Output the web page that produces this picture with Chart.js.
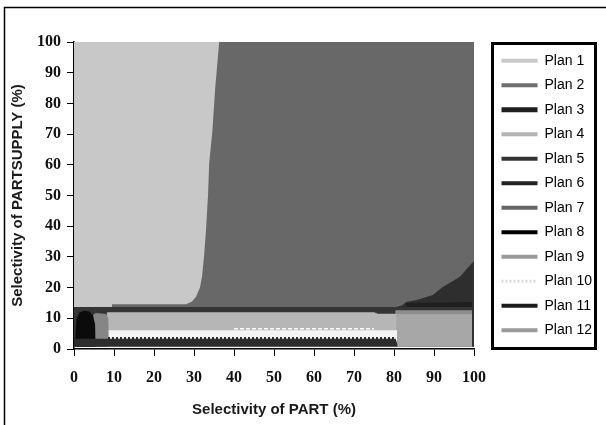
<!DOCTYPE html>
<html lang="en">
<head>
<meta charset="utf-8">
<script src="https://cdn.jsdelivr.net/npm/chart.js@4.4.0/dist/chart.umd.min.js"></script>
<style>
  body { margin: 0; background: #fff; }
  canvas { display: block; }
</style>
</head>
<body>
<canvas id="plot" width="606" height="425"></canvas>
<script>
// legend entries
const planNames = ['Plan 1','Plan 2','Plan 3','Plan 4','Plan 5','Plan 6','Plan 7','Plan 8','Plan 9','Plan 10','Plan 11','Plan 12'];
const planColors = ['#c8c8c8','#6e6e6e','#1e1e1e','#b4b4b4','#333333','#222222','#666666','#000000','#9a9a9a','#dcdcdc','#1c1c1c','#9a9a9a'];
const planWidths = [4, 4, 5, 4, 4, 4, 4, 4, 4, 3, 4, 4];

// region outlines (selectivity of PART %, selectivity of PARTSUPPLY %)
const plan1TopX = [0, 100];
const plan1TopY = [100, 100];
const plan2TopX = [9.5, 28, 29.5, 30.5, 31.5, 32, 32.5, 33, 33.5, 33.8, 34.6, 35.3, 36.3, 100];
const plan2TopY = [14.6, 14.6, 15.5, 17, 20, 23.5, 30, 38.8, 50, 60.6, 71, 85, 100, 100];
const plan6TopX = [80.5, 82, 83, 85.7, 89.7, 92, 96.5, 99.5, 100];
const plan6TopY = [13.7, 14.2, 15.3, 16, 17.6, 20, 23.5, 28, 28.5];
const plan11TopX = [83, 100];
const plan11TopY = [15.0, 15.3];
const plan5TopX = [0, 100];
const plan5TopY = [13.7, 13.7];
const plan9TopX = [80.3, 100];
const plan9TopY = [12.6, 12.6];
const plan12TopX = [80.3, 100];
const plan12TopY = [11.3, 11.3];
const plan6EdgeX = [99.5, 100];
const plan6EdgeY = [28, 28];
const plan4TopX = [8.2, 75, 76, 80.6];
const plan4TopY = [12, 12, 11.5, 11.5];
const plan10TopX = [8.2, 80.8];
const plan10TopY = [6.1, 6.1];
const plan7TopX = [4.8, 5.5, 8.0, 8.6, 8.7];
const plan7TopY = [11.2, 11.7, 11.4, 10, 3.5];
const plan8TopX = [0.3, 0.6, 1.4, 2.6, 3.8, 4.7, 5.3, 5.4];
const plan8TopY = [4, 9.8, 12, 12.5, 12.2, 11, 8, 4];
const plan3TopX = [0, 80.4, 80.9];
const plan3TopY = [3.3, 3.3, 1.5];
// thin boundary lines
const dotLineX = [8.5, 80];
const dotLineY = [3.5, 3.5];
const dashLineX = [40, 75];
const dashLineY = [6.6, 6.6];

const floorValue = 0.7;

function pts(xs, ys) {
    return xs.map((x, i) => ({ x: x, y: ys[i] }));
}

function area(label, xs, ys, color) {
    return {
        label: label,
        data: pts(xs, ys),
        backgroundColor: color,
        borderColor: color,
        borderWidth: 0,
        pointRadius: 0,
        tension: 0,
        fill: { value: floorValue },
    };
}

function line(label, xs, ys, color, width, dash) {
    return {
        label: label,
        data: pts(xs, ys),
        borderColor: color,
        borderWidth: width,
        borderDash: dash,
        pointRadius: 0,
        tension: 0,
        fill: false,
    };
}

// bottom layer first
const layers = [
    area('Plan 1', plan1TopX, plan1TopY, '#c8c8c8'),
    area('Plan 2', plan2TopX, plan2TopY, '#686868'),
    area('Plan 6', plan6TopX, plan6TopY, '#2e2e2e'),
    area('Plan 11', plan11TopX, plan11TopY, '#1f1f1f'),
    area('Plan 5', plan5TopX, plan5TopY, '#353535'),
    area('Plan 9', plan9TopX, plan9TopY, '#8e8e8e'),
    area('Plan 12', plan12TopX, plan12TopY, '#a7a7a7'),
    area('Plan 6 edge', plan6EdgeX, plan6EdgeY, '#333333'),
    area('Plan 4', plan4TopX, plan4TopY, '#b6b6b6'),
    area('Plan 10', plan10TopX, plan10TopY, '#f4f4f4'),
    area('Plan 7', plan7TopX, plan7TopY, '#868686'),
    area('Plan 8', plan8TopX, plan8TopY, '#0b0b0b'),
    area('Plan 3', plan3TopX, plan3TopY, '#2d2d2d'),
    line('Plan 10 edge', dotLineX, dotLineY, '#2a2a2a', 2.5, [2, 2]),
    line('Plan 10 dash', dashLineX, dashLineY, '#fafafa', 1.5, [4, 2]),
];

const framePlugin = {
    id: 'frame',
    afterDraw(chart) {
        const c = chart.ctx;
        const lg = chart.legend;
        c.save();
        c.strokeStyle = '#000';
        c.lineWidth = 1.5;
        c.beginPath();
        c.moveTo(4.5, 425);
        c.lineTo(4.5, 7.5);
        c.lineTo(606, 7.5);
        c.stroke();
        c.lineWidth = 3;
        c.strokeRect(lg.left + 1.5, lg.top + 1.5, lg.width - 3, lg.height - 2);
        c.restore();
    }
};

const tickFont = { family: '"Liberation Serif", "DejaVu Serif", serif', size: 16, weight: 'bold' };
const titleFont = { family: '"Liberation Sans", Arial, sans-serif', size: 15, weight: 'bold' };

new Chart(document.getElementById('plot').getContext('2d'), {
    type: 'line',
    data: { datasets: layers.slice().reverse() },
    options: {
        responsive: false,
        animation: false,
        layout: { padding: { top: 42, right: 9, bottom: 0, left: 0 } },
        scales: {
            x: {
                type: 'linear',
                min: 0, max: 100,
                ticks: { stepSize: 10, color: '#111', font: tickFont, padding: 12 },
                grid: { drawOnChartArea: false, color: '#000', tickLength: 7 },
                border: { color: '#000', width: 1.5 },
                title: { display: true, text: 'Selectivity of PART (%)', color: '#1a1a1a', font: titleFont, padding: { top: 4, bottom: 6 } },
                afterFit(s) { s.height = 76; },
            },
            y: {
                type: 'linear',
                min: 0, max: 100,
                ticks: { stepSize: 10, color: '#111', font: tickFont, padding: 6 },
                grid: { drawOnChartArea: false, color: '#000', tickLength: 7 },
                border: { color: '#000', width: 1.5 },
                title: { display: true, text: 'Selectivity of PARTSUPPLY (%)', color: '#1a1a1a', font: titleFont, padding: { top: 9, bottom: 0 } },
                afterFit(s) { s.width = 74; },
            },
            gap: {
                type: 'linear',
                position: 'right',
                display: true,
                ticks: { display: false },
                grid: { display: false, drawTicks: false },
                border: { display: false },
                afterFit(s) { s.width = 17; },
            },
        },
        plugins: {
            tooltip: { enabled: false },
            legend: {
                position: 'right',
                fullSize: false,
                maxWidth: 106,
                onClick: null,
                labels: {
                    usePointStyle: true,
                    pointStyleWidth: 36,
                    padding: 10.5,
                    color: '#111',
                    font: { family: '"Liberation Sans", Arial, sans-serif', size: 14 },
                    generateLabels() {
                        return planNames.map((name, i) => ({
                            text: name,
                            pointStyle: 'line',
                            strokeStyle: planColors[i],
                            fillStyle: planColors[i],
                            lineWidth: planWidths[i],
                            lineDash: i === 9 ? [2, 2] : [],
                            hidden: false,
                            datasetIndex: i,
                        }));
                    },
                },
            },
        },
    },
    plugins: [framePlugin],
});
</script>
</body>
</html>
